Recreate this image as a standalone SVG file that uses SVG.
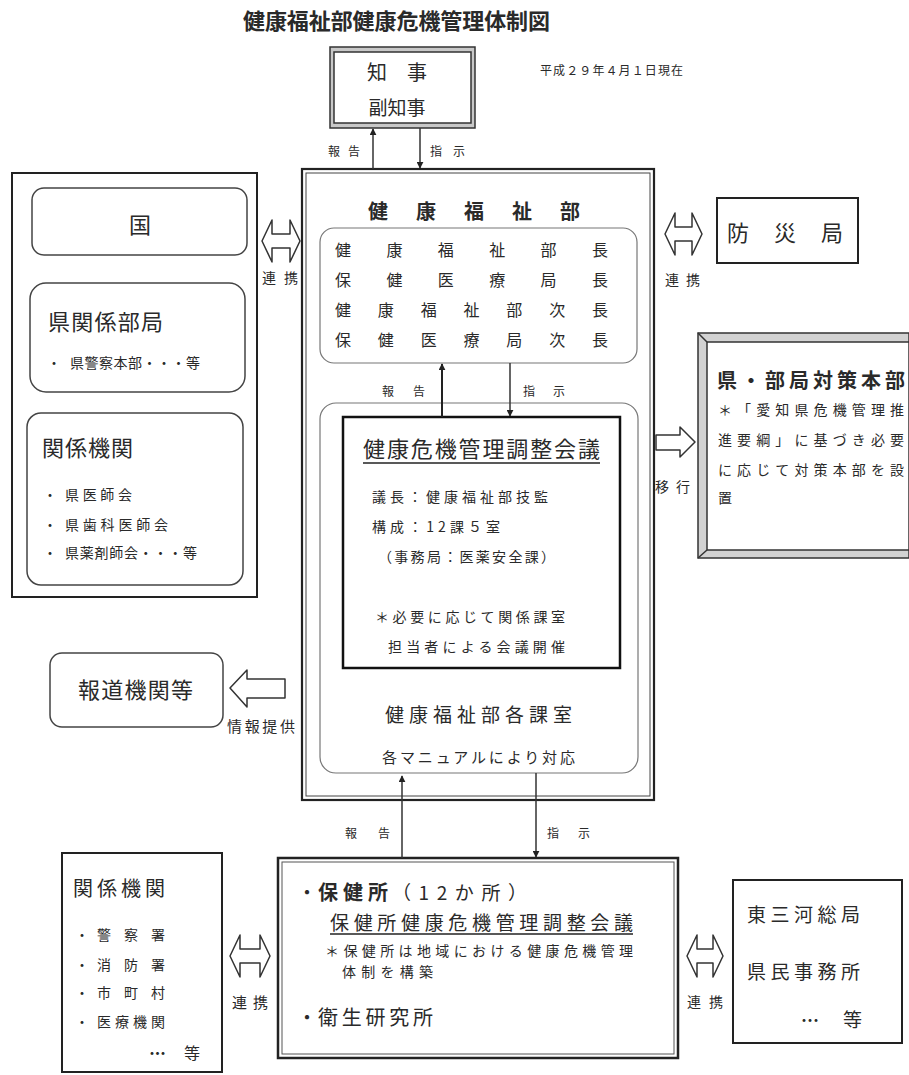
<svg xmlns="http://www.w3.org/2000/svg" width="909" height="1075" viewBox="0 0 909 1075">
<style>
text{font-family:"Noto Sans CJK JP","Noto Sans",sans-serif;fill:#2a2a2a}
.t12{font-size:12px}.t14{font-size:14px}.t15{font-size:15px}.t16{font-size:16px}.t19{font-size:19px}.t20{font-size:20px}.t22{font-size:22px}
.b{font-weight:bold}
.box{fill:#fff;stroke:#222;stroke-width:2}
.rbox{fill:#fff;stroke:#444;stroke-width:1.5}
.gbox{fill:none;stroke:#777;stroke-width:1.2}
.ln{stroke:#333;stroke-width:1.5;fill:none}
.ln2{stroke:#222;stroke-width:2;fill:none}
.darr{fill:#fff;stroke:#333;stroke-width:1.5;stroke-linejoin:round}
.ul{stroke:#222;stroke-width:1.5}
</style>
<defs>
<marker id="ah" viewBox="0 0 10 10" refX="9" refY="5" markerWidth="7" markerHeight="7" orient="auto" markerUnits="userSpaceOnUse"><path d="M0,0 L10,5 L0,10 z" fill="#222"/></marker>
</defs>
<rect width="909" height="1075" fill="#fff"/>

<text id="title" class="t22 b" x="243" y="29" textLength="307" lengthAdjust="spacing">健康福祉部健康危機管理体制図</text>
<text id="date" class="t12" x="540" y="75" textLength="143" lengthAdjust="spacing">平成２９年４月１日現在</text>

<g id="governor">
<rect x="330" y="47" width="145" height="81" fill="#c8c8c8" stroke="#333" stroke-width="1.5"/>
<rect x="334" y="52" width="137" height="71" fill="#fff" stroke="#333" stroke-width="1.5"/>
<text class="t20" x="397" y="80" text-anchor="middle">知　事</text>
<text class="t19" x="397" y="115" text-anchor="middle">副知事</text>
</g>

<g id="main">
<rect x="302" y="169" width="352" height="631" fill="#fff" stroke="#222" stroke-width="2.2"/>
<rect x="306" y="173" width="344" height="623" fill="none" stroke="#444" stroke-width="1"/>
<text class="t20 b" x="368" y="219" textLength="212" lengthAdjust="spacing">健康福祉部</text>
</g>

<g id="leaders">
<rect class="gbox" x="320" y="228" width="317" height="135" rx="14"/>
<text class="t16" x="335" y="256" textLength="273" lengthAdjust="spacing">健康福祉部長</text>
<text class="t16" x="335" y="286" textLength="273" lengthAdjust="spacing">保健医療局長</text>
<text class="t16" x="335" y="316" textLength="273" lengthAdjust="spacing">健康福祉部次長</text>
<text class="t16" x="335" y="346" textLength="273" lengthAdjust="spacing">保健医療局次長</text>
</g>

<g id="sections">
<rect class="gbox" x="320" y="403" width="318" height="370" rx="16"/>
<text class="t19" x="385" y="722" textLength="187" lengthAdjust="spacing">健康福祉部各課室</text>
<text class="t15" x="382" y="763" textLength="193" lengthAdjust="spacing">各マニュアルにより対応</text>
</g>

<g id="council">
<rect x="343" y="417" width="277" height="251" fill="#fff" stroke="#111" stroke-width="2.5"/>
<text class="t22" x="363" y="457" textLength="237" lengthAdjust="spacing">健康危機管理調整会議</text>
<line class="ul" x1="363" y1="463" x2="600" y2="463"/>
<text class="t14" x="372" y="502" textLength="176" lengthAdjust="spacing">議長：健康福祉部技監</text>
<text class="t14" x="372" y="532" textLength="128" lengthAdjust="spacing">構成：12課５室</text>
<text class="t14" x="378" y="562" textLength="177" lengthAdjust="spacing">（事務局：医薬安全課）</text>
<text class="t14" x="375" y="622" textLength="190" lengthAdjust="spacing">＊必要に応じて関係課室</text>
<text class="t14" x="388" y="652" textLength="177" lengthAdjust="spacing">担当者による会議開催</text>
</g>

<g id="country-group">
<rect class="box" x="12" y="173" width="245" height="424"/>
<rect class="rbox" x="32" y="188" width="215" height="67" rx="12"/>
<text class="t22" x="140" y="233" text-anchor="middle">国</text>
<rect class="rbox" x="30" y="283" width="215" height="109" rx="16"/>
<text class="t22" x="48" y="330" textLength="115" lengthAdjust="spacing">県関係部局</text>
<text class="t14" x="47" y="368">・</text>
<text class="t14" x="70" y="368" textLength="130" lengthAdjust="spacing">県警察本部・・・等</text>
<rect class="rbox" x="27" y="413" width="216" height="172" rx="14"/>
<text class="t22" x="42" y="456" textLength="91" lengthAdjust="spacing">関係機関</text>
<text class="t14" x="43" y="500">・</text>
<text class="t14" x="65" y="500" textLength="67" lengthAdjust="spacing">県医師会</text>
<text class="t14" x="43" y="530">・</text>
<text class="t14" x="65" y="530" textLength="103" lengthAdjust="spacing">県歯科医師会</text>
<text class="t14" x="43" y="558">・</text>
<text class="t14" x="65" y="558" textLength="132" lengthAdjust="spacing">県薬剤師会・・・等</text>
</g>

<g id="bousai">
<rect class="box" x="717" y="198" width="141" height="65"/>
<text class="t22" x="727" y="241" textLength="116" lengthAdjust="spacing">防　災　局</text>
</g>

<g id="hq">
<rect x="698" y="333" width="211" height="225" fill="#d2d2d2" stroke="#333" stroke-width="1.5"/>
<rect x="707" y="342" width="202" height="208" fill="#fff" stroke="#333" stroke-width="1.5"/>
<line class="ln" x1="698" y1="333" x2="707" y2="342"/>
<line class="ln" x1="698" y1="558" x2="707" y2="550"/>
<text class="t20 b" x="717" y="388" textLength="188" lengthAdjust="spacing">県・部局対策本部</text>
<text class="t14" x="718" y="415" textLength="186" lengthAdjust="spacing">＊「愛知県危機管理推</text>
<text class="t14" x="718" y="445" textLength="186" lengthAdjust="spacing">進要綱」に基づき必要</text>
<text class="t14" x="718" y="475" textLength="186" lengthAdjust="spacing">に応じて対策本部を設</text>
<text class="t14" x="718" y="503">置</text>
</g>

<g id="press">
<rect class="rbox" x="50" y="653" width="173" height="74" rx="12"/>
<text class="t22" x="78" y="698" textLength="115" lengthAdjust="spacing">報道機関等</text>
</g>

<g id="hokenjo">
<rect x="278" y="858" width="400" height="200" fill="#fff" stroke="#222" stroke-width="2.5"/>
<rect x="282" y="862" width="392" height="192" fill="none" stroke="#555" stroke-width="1"/>
<text class="t20" x="297" y="900">・</text>
<text class="t20 b" x="318" y="900" textLength="70" lengthAdjust="spacing">保健所</text>
<text class="t19" x="392" y="900" textLength="135" lengthAdjust="spacing">（12か所）</text>
<text class="t19" x="330" y="930" textLength="303" lengthAdjust="spacing">保健所健康危機管理調整会議</text>
<line class="ul" x1="330" y1="934" x2="633" y2="934"/>
<text class="t14" x="325" y="956" textLength="308" lengthAdjust="spacing">＊保健所は地域における健康危機管理</text>
<text class="t14" x="342" y="977" textLength="91" lengthAdjust="spacing">体制を構築</text>
<text class="t20" x="297" y="1025">・</text>
<text class="t20" x="318" y="1025" textLength="115" lengthAdjust="spacing">衛生研究所</text>
</g>

<g id="local-orgs">
<rect class="box" x="62" y="853" width="160" height="219"/>
<text class="t20" x="73" y="896" textLength="92" lengthAdjust="spacing">関係機関</text>
<text class="t14" x="75" y="940">・</text>
<text class="t14" x="97" y="940" textLength="68" lengthAdjust="spacing">警察署</text>
<text class="t14" x="75" y="970">・</text>
<text class="t14" x="97" y="970" textLength="68" lengthAdjust="spacing">消防署</text>
<text class="t14" x="75" y="998">・</text>
<text class="t14" x="97" y="998" textLength="68" lengthAdjust="spacing">市町村</text>
<text class="t14" x="75" y="1027">・</text>
<text class="t14" x="97" y="1027" textLength="68" lengthAdjust="spacing">医療機関</text>
<text class="t14" x="145" y="1058" textLength="25" lengthAdjust="spacing">・・・</text>
<text class="t16" x="184" y="1059">等</text>
</g>

<g id="regional">
<rect class="box" x="733" y="880" width="169" height="163"/>
<text class="t19" x="747" y="922" textLength="113" lengthAdjust="spacing">東三河総局</text>
<text class="t19" x="747" y="979" textLength="113" lengthAdjust="spacing">県民事務所</text>
<text class="t14" x="797" y="1025" textLength="26" lengthAdjust="spacing">・・・</text>
<text class="t19" x="843" y="1027">等</text>
</g>

<g id="connectors">
<line class="ln" x1="373" y1="169" x2="373" y2="129" marker-end="url(#ah)"/>
<line class="ln" x1="420" y1="128" x2="420" y2="168" marker-end="url(#ah)"/>
<text class="t12" x="328" y="156" textLength="32" lengthAdjust="spacing">報告</text>
<text class="t12" x="430" y="156" textLength="35" lengthAdjust="spacing">指示</text>
<line class="ln2" x1="442" y1="417" x2="442" y2="364" marker-end="url(#ah)"/>
<line class="ln" x1="510" y1="363" x2="510" y2="416" marker-end="url(#ah)"/>
<text class="t12" x="382" y="396" textLength="43" lengthAdjust="spacing">報告</text>
<text class="t12" x="523" y="396" textLength="42" lengthAdjust="spacing">指示</text>
<line class="ln" x1="402" y1="858" x2="402" y2="776" marker-end="url(#ah)"/>
<line class="ln" x1="536" y1="773" x2="536" y2="857" marker-end="url(#ah)"/>
<text class="t12" x="345" y="838" textLength="45" lengthAdjust="spacing">報告</text>
<text class="t12" x="547" y="838" textLength="43" lengthAdjust="spacing">指示</text>
<polygon class="darr" points="262,241 272,220 272,234 290,234 290,220 300,241 290,262 290,248 272,248 272,262"/>
<text class="t14" x="262" y="283" textLength="36" lengthAdjust="spacing">連携</text>
<polygon class="darr" points="665,234 675,213 675,227 692,227 692,213 702,234 692,255 692,241 675,241 675,255"/>
<text class="t14" x="665" y="285" textLength="35" lengthAdjust="spacing">連携</text>
<polygon class="darr" points="230,956 240,935 240,949 260,949 260,935 270,956 260,977 260,963 240,963 240,977"/>
<text class="t15" x="232" y="1008" textLength="36" lengthAdjust="spacing">連携</text>
<polygon class="darr" points="687,956 697,935 697,949 713,949 713,935 723,956 713,977 713,963 697,963 697,977"/>
<text class="t14" x="687" y="1007" textLength="36" lengthAdjust="spacing">連携</text>
<polygon class="darr" points="656,435 680,435 680,427 695,442 680,457 680,450 656,450"/>
<text class="t14" x="655" y="492" textLength="35" lengthAdjust="spacing">移行</text>
<polygon class="darr" points="285,679 247,679 247,670 230,688 247,707 247,698 285,698"/>
<text class="t15" x="227" y="732" textLength="68" lengthAdjust="spacing">情報提供</text>
</g>
</svg>
